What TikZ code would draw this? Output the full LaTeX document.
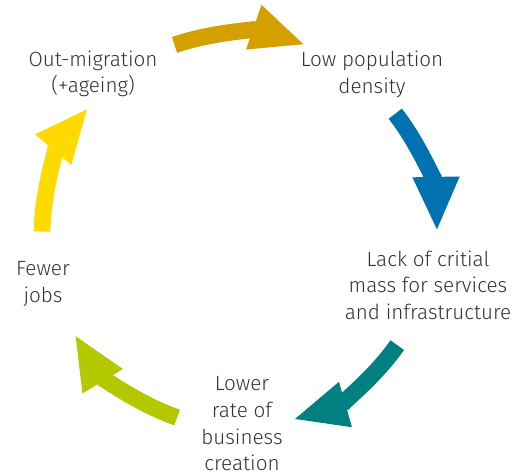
\documentclass[tikz,border=0pt]{standalone}
\usepackage{fontspec}
\setmainfont{Fira Sans Light}
\usetikzlibrary{arrows.meta}

\definecolor{cycgold}{RGB}{212,160,0}
\definecolor{cycblue}{RGB}{0,114,178}
\definecolor{cycteal}{RGB}{0,128,128}
\definecolor{cyclime}{RGB}{180,200,0}
\definecolor{cycyellow}{RGB}{255,218,0}
\definecolor{txtgray}{RGB}{51,51,51}

\begin{document}
\begin{tikzpicture}[x=0.75pt, y=0.75pt,
    stage/.style={align=center, text=txtgray, font=\fontsize{15.5}{20}\selectfont},
    cyc/.style={line width=12.5pt, -{Triangle[length=41pt, width=32pt]}}]
    \useasboundingbox (0,0) rectangle (520,475);
    \coordinate (c) at (240,240);

    % the five stages of the cycle
    \node[stage] (lowpop) at (372,401) {Low population\\density};
    \node[stage] (lack) at (428,190) {Lack of critial\\mass for services\\and infrastructure};
    \node[stage] (lower) at (242,51) {Lower\\rate of\\business\\creation};
    \node[stage] (fewer) at (43,191) {Fewer\\jobs};
    \node[stage] (outmig) at (93,401) {Out-migration\\(+ageing)};

    % curved arrows between them
    \draw[cyc, cycgold] ([shift={(109:201)}]c) arc[start angle=109, end angle=71, radius=201];
    \draw[cyc, cycblue] ([shift={(38:197)}]c) arc[start angle=38, end angle=1, radius=197];
    \draw[cyc, cycteal] ([shift={(-35:192)}]c) arc[start angle=-35, end angle=-74, radius=192];
    \draw[cyc, cyclime] ([shift={(-109:193)}]c) arc[start angle=-109, end angle=-149, radius=193];
    \draw[cyc, cycyellow] ([shift={(179:198)}]c) arc[start angle=179, end angle=140, radius=198];
\end{tikzpicture}
\end{document}
